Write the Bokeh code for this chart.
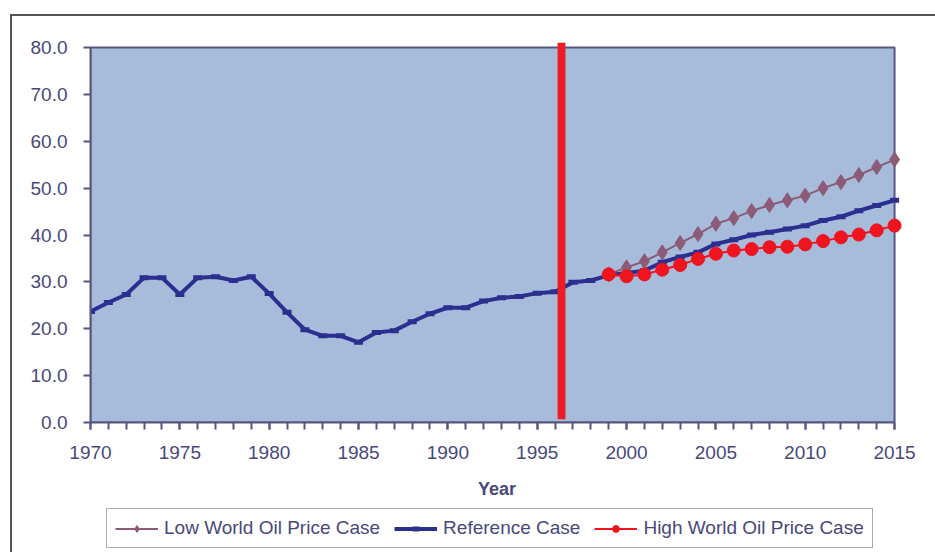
from bokeh.plotting import figure
from bokeh.layouts import column
from bokeh.models import (Legend, LegendItem, FixedTicker,
                          PrintfTickFormatter, Range1d)
from bokeh.embed import file_html
from bokeh.resources import INLINE

# ---------------- data ----------------
ref_years = list(range(1970, 2016))
ref_values = [23.7, 25.6, 27.3, 30.9, 30.9, 27.3, 30.9, 31.1, 30.3, 31.1,
              27.5, 23.5, 19.8, 18.5, 18.5, 17.1, 19.2, 19.6, 21.5, 23.2,
              24.5, 24.5, 25.9, 26.6, 26.9, 27.6, 27.9, 29.9, 30.3, 31.4,
              31.9, 32.4, 34.2, 35.3, 36.3, 38.1, 39.0, 40.0, 40.6, 41.3,
              42.0, 43.1, 43.9, 45.2, 46.3, 47.4]

proj_years = list(range(1999, 2016))
low_values = [31.6, 33.1, 34.4, 36.3, 38.3, 40.2, 42.4, 43.6, 45.1, 46.4,
              47.4, 48.4, 50.0, 51.3, 52.8, 54.5, 56.1]
high_values = [31.6, 31.2, 31.6, 32.6, 33.6, 34.9, 36.0, 36.7, 37.0, 37.4,
               37.5, 38.0, 38.7, 39.5, 40.1, 41.0, 42.0]

series_names = ["Low World Oil Price Case", "Reference Case",
                "High World Oil Price Case"]
x_start, x_end = 1970, 2015
y_start, y_end = 0, 80
x_major_ticks = list(range(1970, 2016, 5))
x_minor_ticks = list(range(1970, 2016))
y_ticks = list(range(0, 81, 10))
divider_year = 1996.36

# ---------------- style ----------------
TEXT = "#48487A"
AXIS = "#56567E"
FONT = "Liberation Sans"
C_REF = "#2B2F8F"
C_LOW = "#8C5B78"
C_HIGH = "#F0141E"
C_BG = "#A7BBDA"

p = figure(width=923, height=492, output_backend="svg", toolbar_location=None,
           x_range=Range1d(x_start, x_end + 0.5),
           y_range=Range1d(y_start, y_end + 1.5),
           min_border_left=78, min_border_right=32, min_border_top=24,
           min_border_bottom=86)
p.background_fill_color = "white"
p.border_fill_color = "white"
p.outline_line_color = None
p.grid.visible = False

# plot area panel
p.quad(left=[x_start], right=[x_end], bottom=[y_start], top=[y_end],
       fill_color=C_BG, line_color=AXIS, line_width=2)

# axes
p.xaxis.ticker = FixedTicker(ticks=x_major_ticks, minor_ticks=x_minor_ticks)
p.yaxis.ticker = FixedTicker(ticks=y_ticks)
p.yaxis.formatter = PrintfTickFormatter(format="%.1f")
p.xaxis.bounds = (x_start, x_end)
p.yaxis.bounds = (y_start, y_end)
for ax in (p.xaxis, p.yaxis):
    ax.axis_line_color = AXIS
    ax.axis_line_width = 2
    ax.major_tick_line_color = AXIS
    ax.major_tick_line_width = 2
    ax.major_tick_out = 7
    ax.major_tick_in = 0
    ax.major_label_text_font = FONT
    ax.major_label_text_font_size = "19px"
    ax.major_label_text_color = TEXT
p.xaxis.minor_tick_line_color = AXIS
p.xaxis.minor_tick_line_width = 2
p.xaxis.minor_tick_out = 7
p.xaxis.minor_tick_in = 0
p.yaxis.minor_tick_line_color = None
p.xaxis.major_label_standoff = 16
p.yaxis.major_label_standoff = 16
p.xaxis.axis_label = "Year"
p.xaxis.axis_label_text_font = FONT
p.xaxis.axis_label_text_font_style = "bold"
p.xaxis.axis_label_text_font_size = "18px"
p.xaxis.axis_label_text_color = TEXT
p.xaxis.axis_label_standoff = 17


def draw_series(fig):
    r = []
    r.append(fig.line(proj_years, low_values, line_color=C_LOW, line_width=2))
    r.append(fig.scatter(proj_years, low_values, marker="diamond", size=15,
                         fill_color=C_LOW, line_color=C_LOW))
    r.append(fig.line(ref_years, ref_values, line_color=C_REF, line_width=4))
    r.append(fig.scatter(ref_years, ref_values, marker="dash", size=9,
                         line_width=5, line_color=C_REF))
    r.append(fig.line(proj_years, high_values, line_color=C_HIGH, line_width=2))
    r.append(fig.scatter(proj_years, high_values, marker="circle", size=13,
                         fill_color=C_HIGH, line_color=C_HIGH))
    return r


draw_series(p)

# vertical divider
p.quad(left=[divider_year - 0.22], right=[divider_year + 0.22],
       bottom=[0.7], top=[y_end + 1.0], fill_color="#EE1C25",
       line_color=None)

# ---------------- legend strip ----------------
# same series drawn on an off-screen range: only their legend glyphs show
lg = figure(width=923, height=44, output_backend="svg", toolbar_location=None,
            x_range=Range1d(0, 1), y_range=Range1d(0, 1),
            x_axis_type=None, y_axis_type=None, min_border=0)
lg.outline_line_color = None
lg.grid.visible = False
lg.background_fill_color = "white"
lg.border_fill_color = "white"
proxies = draw_series(lg)

legend = Legend(items=[
    LegendItem(label=series_names[0], renderers=proxies[0:2]),
    LegendItem(label=series_names[1], renderers=proxies[2:4]),
    LegendItem(label=series_names[2], renderers=proxies[4:6]),
], orientation="horizontal", location=(16, 4))
legend.label_text_font = FONT
legend.label_text_font_size = "19px"
legend.label_text_color = TEXT
legend.border_line_color = "#555555"
legend.border_line_width = 1
legend.background_fill_color = "white"
legend.glyph_width = 43
legend.label_standoff = 6
legend.spacing = 14
legend.padding = 8
legend.margin = 0
legend.label_height = 17
legend.glyph_height = 17
lg.add_layout(legend, "center")

layout = column(p, lg, spacing=0,
                styles={"border-top": "2px solid #555555",
                        "border-left": "2px solid #555555",
                        "margin-left": "10px", "margin-top": "14px"})

open("out.html", "w").write(file_html(layout, INLINE))
